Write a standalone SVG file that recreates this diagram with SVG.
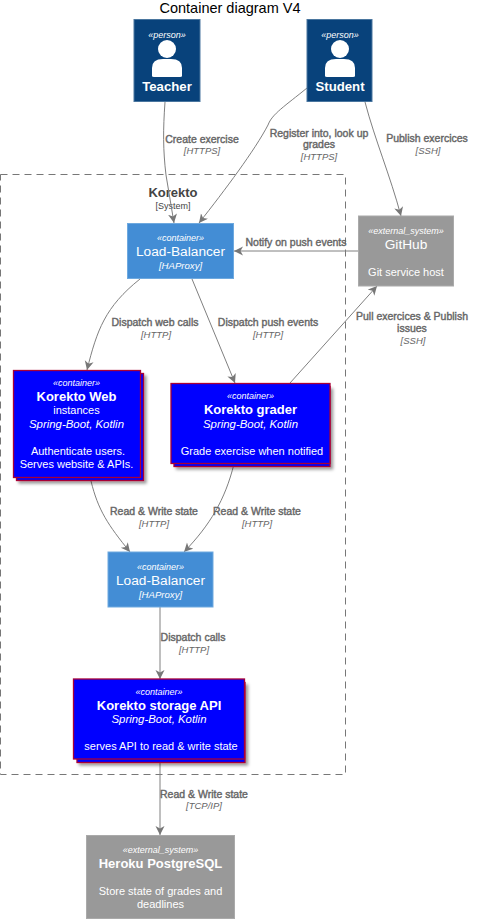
<svg xmlns="http://www.w3.org/2000/svg" width="477" height="924" viewBox="0 0 477 924">
<style>
text{font-family:"Liberation Sans",Arial,sans-serif;text-anchor:middle}
.ster{font-size:9px;font-style:italic;fill:#fff}
.title{font-size:13px;font-weight:bold;fill:#fff}
.name{font-size:13.7px;fill:#fff}
.body{font-size:11px;fill:#fff}
.tech{font-size:11.400px;font-style:italic;fill:#fff}
.tech2{font-size:9.600px;font-style:italic;fill:#fff}
.lab{font-size:10.500px;fill:#666;stroke:#666;stroke-width:.4}
.lt{font-size:9.500px;font-style:italic;fill:#666}
.conn{fill:none;stroke:#808080;stroke-width:1;marker-end:url(#a)}
.lb{fill:#438dd5;stroke:#6ea9df;stroke-width:1}
.ext{fill:#999;stroke:#aaa;stroke-width:1}
.per{fill:#08427b;stroke:#4a769f;stroke-width:1}
.blue{fill:#00f;stroke:#a80036;stroke-width:1.300}
</style>
<defs>
<marker id="a" markerUnits="userSpaceOnUse" markerWidth="11" markerHeight="10" refX="9" refY="4.500" orient="auto"><path d="M0,0 L9,4.500 L0,9 L2.500,4.500 Z" fill="#777"/></marker>
<filter id="s" x="-5%" y="-5%" width="115%" height="120%"><feDropShadow dx="2.500" dy="2.500" stdDeviation="1.500" flood-color="#000" flood-opacity=".4"/></filter>
<g id="pico"><circle cx="0" cy="0" r="9" fill="#fff"/><path d="M-15,27 v-8 q0,-9 11,-9 h8 q11,0 11,9 v8 q0,1 -2,1 h-26 q-2,0 -2,-1 Z" fill="#fff"/></g>
</defs>
<text x="230" y="13" style="font-size:14.500px;fill:#000">Container diagram V4</text>

<g id="boundary">
<rect x="0.500" y="174.500" width="345" height="600" fill="none" stroke="#777" stroke-dasharray="7 5"/>
<text x="173" y="197" style="font-size:13px;font-weight:bold;fill:#444">Korekto</text>
<text x="173" y="209" style="font-size:9px;fill:#444">[System]</text>
</g>

<g id="connectors">
<path class="conn" d="M165,102 C163,130 163,150 166,175 L174,223"/>
<path class="conn" d="M307,88 C285,106 272,114 268,125 C255,150 225,190 199,223"/>
<path class="conn" d="M365,102 C375,140 390,175 401,216"/>
<path class="conn" d="M358,251 L234,251"/>
<path class="conn" d="M140,279 C105,307 97,330 87,370"/>
<path class="conn" d="M192,279 L235,383"/>
<path class="conn" d="M290,383 L377,286"/>
<path class="conn" d="M91,481 C98,510 108,525 130,552"/>
<path class="conn" d="M234,464 C225,500 210,525 184,552"/>
<path class="conn" d="M160,607 L160,679"/>
<path class="conn" d="M160,759 L160,835"/>
</g>

<g id="teacher">
<rect class="per" x="134" y="19.500" width="66" height="82"/>
<text class="ster" x="167" y="38">«person»</text>
<use href="#pico" x="167" y="49"/>
<text x="167" y="91" style="font-size:13.200px;font-weight:bold;fill:#fff">Teacher</text>
</g>
<g id="student">
<rect class="per" x="307" y="19.500" width="65" height="82"/>
<text class="ster" x="340" y="38">«person»</text>
<use href="#pico" x="340" y="49"/>
<text x="340" y="91" style="font-size:13.200px;font-weight:bold;fill:#fff">Student</text>
</g>
<g id="lb1">
<rect class="lb" x="127.500" y="223.500" width="106" height="55"/>
<text class="ster" x="180.500" y="241">«container»</text>
<text class="name" x="180.500" y="256">Load-Balancer</text>
<text class="tech2" x="180.500" y="269">[HAProxy]</text>
</g>
<g id="github">
<rect class="ext" x="358.500" y="216" width="95" height="70"/>
<text class="ster" x="406" y="234">«external_system»</text>
<text class="name" x="406" y="249">GitHub</text>
<text class="body" x="406" y="276">Git service host</text>
</g>
<g id="web">
<rect class="blue" x="16.500" y="373.500" width="127" height="107" filter="url(#s)"/>
<rect class="blue" x="13.500" y="370.500" width="127" height="107"/>
<text class="ster" x="76.500" y="386">«container»</text>
<text class="title" x="76.500" y="401">Korekto Web</text>
<text class="body" x="76.500" y="414">instances</text>
<text class="tech" x="76.500" y="428">Spring-Boot, Kotlin</text>
<text class="body" x="78" y="455">Authenticate users.</text>
<text class="body" x="76.500" y="468">Serves website &amp; APIs.</text>
</g>
<g id="grader">
<rect class="blue" x="174" y="386.500" width="156" height="80" filter="url(#s)"/>
<rect class="blue" x="171" y="383.500" width="159" height="80"/>
<text class="ster" x="250.500" y="399">«container»</text>
<text class="title" x="250.500" y="414">Korekto grader</text>
<text class="tech" x="250.500" y="428">Spring-Boot, Kotlin</text>
<text class="body" x="252" y="455">Grade exercise when notified</text>
</g>
<g id="lb2">
<rect class="lb" x="108" y="552" width="105" height="55"/>
<text class="ster" x="160.500" y="570">«container»</text>
<text class="name" x="160.500" y="585">Load-Balancer</text>
<text class="tech2" x="160.500" y="598">[HAProxy]</text>
</g>
<g id="storage">
<rect class="blue" x="77" y="682.500" width="168" height="80" filter="url(#s)"/>
<rect class="blue" x="73.500" y="679" width="171" height="80"/>
<text class="ster" x="159" y="695">«container»</text>
<text class="title" x="159" y="710">Korekto storage API</text>
<text class="tech" x="159" y="723">Spring-Boot, Kotlin</text>
<text class="body" x="161" y="750">serves API to read &amp; write state</text>
</g>
<g id="heroku">
<rect class="ext" x="86.500" y="835.500" width="148" height="83"/>
<text class="ster" x="160.500" y="853">«external_system»</text>
<text x="160.500" y="868" style="font-size:13px;font-weight:bold;fill:#fff">Heroku PostgreSQL</text>
<text class="body" x="160.500" y="895">Store state of grades and</text>
<text class="body" x="160.500" y="908">deadlines</text>
</g>

<g id="labels">
<text class="lab" x="202" y="143">Create exercise</text>
<text class="lt" x="202" y="154">[HTTPS]</text>
<text class="lab" x="319" y="137">Register into, look up</text>
<text class="lab" x="319" y="148">grades</text>
<text class="lt" x="319" y="160">[HTTPS]</text>
<text class="lab" x="427" y="142">Publish exercices</text>
<text class="lt" x="428" y="154">[SSH]</text>
<text class="lab" x="296" y="246">Notify on push events</text>
<text class="lab" x="155" y="326">Dispatch web calls</text>
<text class="lt" x="156" y="338">[HTTP]</text>
<text class="lab" x="268" y="326">Dispatch push events</text>
<text class="lt" x="268" y="338">[HTTP]</text>
<text class="lab" x="412" y="320">Pull exercices &amp; Publish</text>
<text class="lab" x="412" y="332">issues</text>
<text class="lt" x="413" y="344">[SSH]</text>
<text class="lab" x="154" y="515">Read &amp; Write state</text>
<text class="lt" x="154" y="527">[HTTP]</text>
<text class="lab" x="257" y="515">Read &amp; Write state</text>
<text class="lt" x="257" y="527">[HTTP]</text>
<text class="lab" x="193" y="641">Dispatch calls</text>
<text class="lt" x="194" y="653">[HTTP]</text>
<text class="lab" x="204" y="798">Read &amp; Write state</text>
<text class="lt" x="204" y="809">[TCP/IP]</text>
</g>
</svg>
